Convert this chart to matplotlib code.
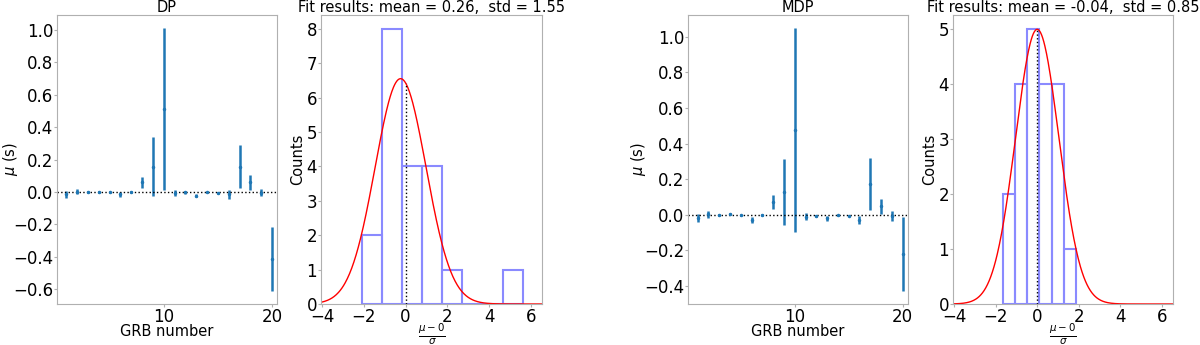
import numpy as np
import matplotlib
matplotlib.use('Agg')
import matplotlib.pyplot as plt

# ── GRB offsets mu (s) with errors ──
grb = np.arange(1, 21)

dp_mu = [-0.015, 0.002, 0.000, 0.002, -0.002, -0.015, 0.002, 0.062, 0.157, 0.512,
         -0.004, -0.002, -0.022, -0.002, -0.006, -0.015, 0.157, 0.060, -0.004, -0.413]
dp_err = [0.023, 0.017, 0.005, 0.005, 0.004, 0.018, 0.005, 0.034, 0.180, 0.500,
          0.018, 0.010, 0.010, 0.005, 0.004, 0.028, 0.132, 0.046, 0.023, 0.197]
dp_yticks = [-0.6, -0.4, -0.2, 0.0, 0.2, 0.4, 0.6, 0.8, 1.0]

mdp_mu = [-0.019, 0.004, 0.000, 0.004, -0.002, -0.030, 0.000, 0.071, 0.128, 0.476,
          -0.010, -0.004, -0.020, -0.002, -0.004, -0.028, 0.173, 0.047, -0.006, -0.220]
mdp_err = [0.023, 0.020, 0.004, 0.005, 0.004, 0.017, 0.004, 0.038, 0.187, 0.573,
           0.021, 0.006, 0.015, 0.004, 0.004, 0.024, 0.147, 0.042, 0.030, 0.207]
mdp_yticks = [-0.4, -0.2, 0.0, 0.2, 0.4, 0.6, 0.8, 1.0]

# ── pull histograms (mu - 0) / sigma ──
dp_edges = [-2.10, -1.136, -0.172, 0.792, 1.756, 2.72, 3.684, 4.648, 5.612]
dp_counts = [2, 8, 4, 4, 1, 0, 0, 1]
dp_fit = dict(amp=6.55, mean=-0.24, std=1.22)
dp_title = 'Fit results: mean = 0.26,  std = 1.55'

mdp_edges = [-1.65, -1.065, -0.48, 0.105, 0.69, 1.275, 1.86]
mdp_counts = [2, 4, 5, 4, 4, 1]
mdp_fit = dict(amp=4.99, mean=0.0, std=1.04)
mdp_title = 'Fit results: mean = -0.04,  std = 0.85'

FS = 10.5      # titles / axis labels
TICK_FS = 12
SPINE = '#b0b0b0'


def style(ax):
    for s in ax.spines.values():
        s.set_color(SPINE)
    ax.tick_params(colors=SPINE, labelcolor='black', labelsize=TICK_FS,
                   length=2, pad=0.8)


def gauss(x, amp, mean, std):
    return amp * np.exp(-(x - mean) ** 2 / (2 * std ** 2))


def mu_panel(ax, mu, err, name, xlim, yticks, ylab_x):
    ax.errorbar(grb, mu, yerr=err, fmt='.', color='#1f77b4', markersize=3,
                elinewidth=1.8)
    ax.axhline(0, color='black', linestyle=':', linewidth=1)
    ax.set_xlim(*xlim)
    ax.set_xticks([10, 20])
    ax.set_yticks(yticks)
    ax.set_yticklabels([f'{t:.1f}'.replace('-', '\u2212') for t in yticks])
    ax.set_title(name, fontsize=FS, pad=1)
    ax.set_xlabel('GRB number', fontsize=FS)
    ax.set_ylabel(r'$\mu$ (s)', fontsize=FS)
    ax.xaxis.set_label_coords(0.5, -0.07)
    ax.yaxis.set_label_coords(ylab_x, 0.5)
    style(ax)


def hist_panel(ax, edges, counts, fit, title):
    edges = np.array(edges)
    centers = 0.5 * (edges[:-1] + edges[1:])
    ax.hist(centers, bins=edges, weights=counts, histtype='bar', fill=False,
            edgecolor='#8a8aff', linewidth=1.5)
    xs = np.linspace(-4, 6.5, 400)
    ax.plot(xs, gauss(xs, **fit), color='red', linewidth=1)
    ax.vlines(0, 0, gauss(0, **fit), color='black', linestyle=':', linewidth=1)
    ax.set_xlim(-4.05, 6.53)
    ax.set_xticks([-4, -2, 0, 2, 4, 6])
    ax.set_yticks(range(0, max(counts) + 1))
    ax.set_title(title, fontsize=FS, pad=1)
    ax.set_xlabel(r'$\frac{\mu - 0}{\sigma}$', fontsize=FS)
    ax.set_ylabel('Counts', fontsize=FS)
    ax.xaxis.set_label_coords(0.5, -0.062)
    ax.yaxis.set_label_coords(-0.073, 0.5)
    style(ax)


fig = plt.figure(figsize=(12, 3.45), dpi=100)
W, H = 1200, 345
b, h = 1 - 304 / H, (304 - 15) / H
ax1 = fig.add_axes([57 / W, b, 220 / W, h])
ax2 = fig.add_axes([321 / W, b, 221 / W, h])
ax3 = fig.add_axes([688 / W, b, 220 / W, h])
ax4 = fig.add_axes([953 / W, b, 220 / W, h])

mu_panel(ax1, dp_mu, dp_err, 'DP', (0.15, 20.46), dp_yticks, -0.168)
hist_panel(ax2, dp_edges, dp_counts, dp_fit, dp_title)
mu_panel(ax3, mdp_mu, mdp_err, 'MDP', (0.1, 20.5), mdp_yticks, -0.18)
hist_panel(ax4, mdp_edges, mdp_counts, mdp_fit, mdp_title)

fig.savefig('out.png', dpi=100)
